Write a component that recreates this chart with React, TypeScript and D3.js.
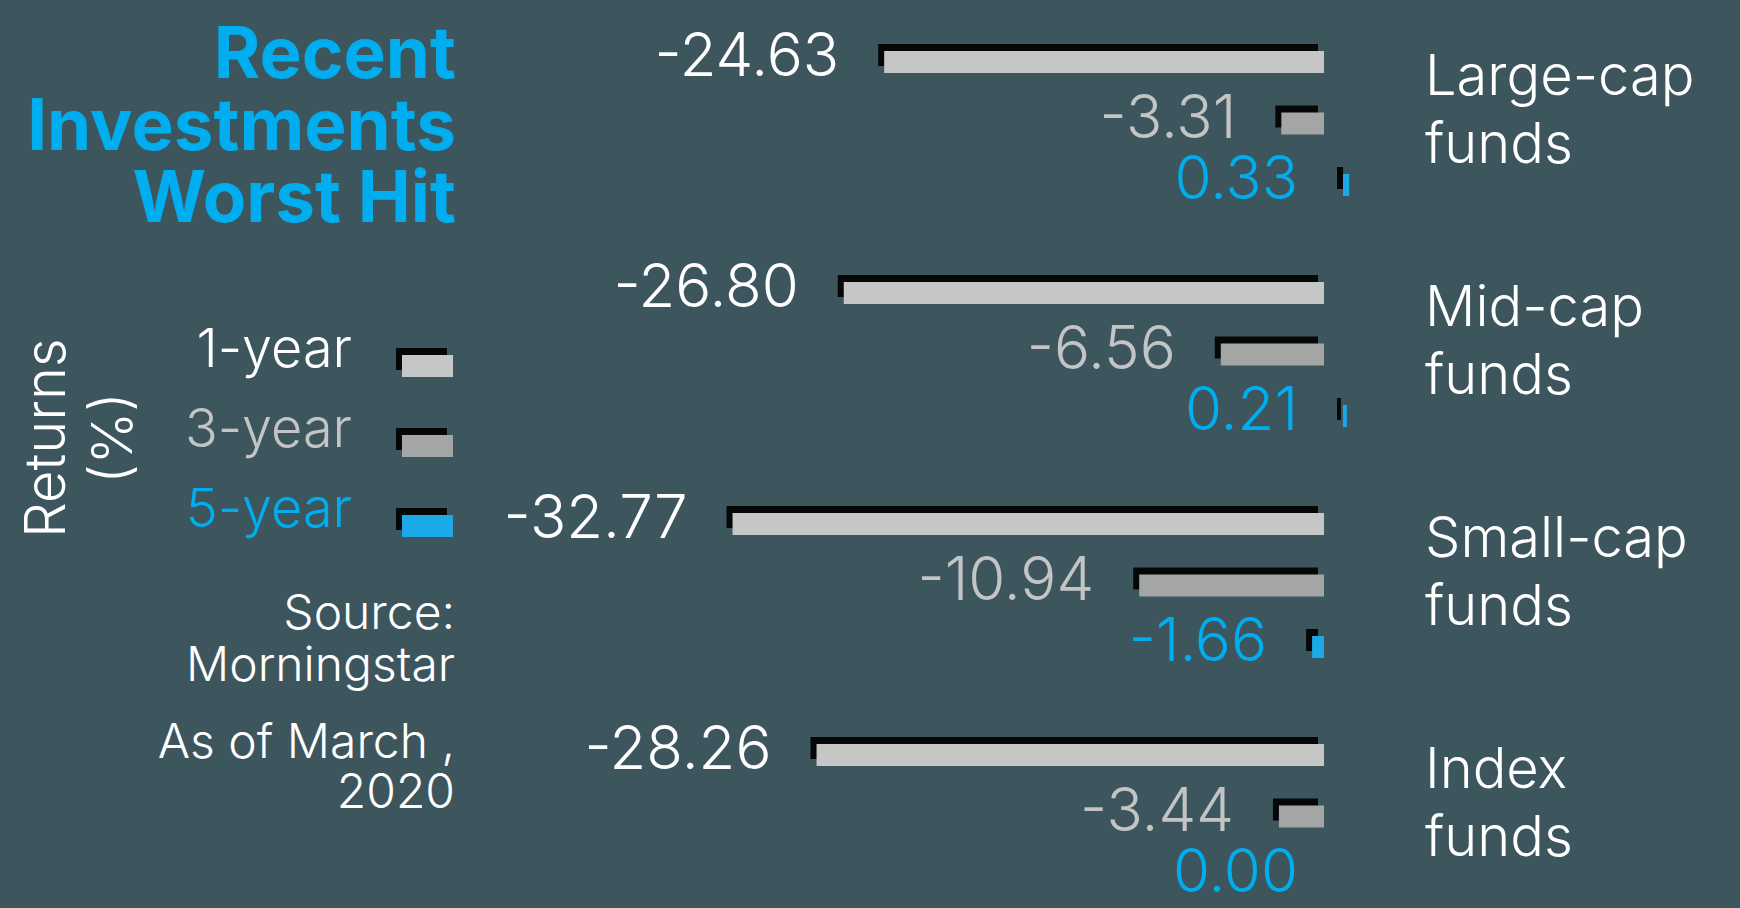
import React from "react";
import * as d3 from "d3";

// Fund returns (%) by category and holding period
const categories = ["Large-cap funds", "Mid-cap funds", "Small-cap funds", "Index funds"];
const seriesNames = ["1-year", "3-year", "5-year"];
const oneYear = [-24.63, -26.8, -32.77, -28.26];
const threeYear = [-3.31, -6.56, -10.94, -3.44];
const fiveYear = [0.33, 0.21, -1.66, 0.0];

const titleLines = ["Recent", "Investments", "Worst Hit"];
const axisLabelLines = ["Returns", "(%)"];
const sourceLines = ["Source:", "Morningstar"];
const dateLines = ["As of March ,", "2020"];

const W = 1740;
const H = 908;
const BG = "#3d565e";
const BLUE = "#00aeef";
const SHADOW = "#060808";
const barFill = ["#c5c7c7", "#a4a5a5", "#1ca9e8"];
const textFill = ["#ffffff", "#c3c4c4", BLUE];
const FONT = "Inter, 'Noto Sans', Roboto, sans-serif";

export default function App() {
  const values = [oneYear, threeYear, fiveYear];

  const x = d3.scaleLinear().domain([-35, 0]).range([691, 1343]);
  const yGroup = d3.scaleBand().domain(categories).range([51, 51 + 4 * 231]);
  const yInner = d3.scaleBand().domain(seriesNames).range([0, 184.5]);
  const legendY = d3.scalePoint().domain(seriesNames).range([367, 527]);

  const barH = 22;
  const shadowX = 6;
  const shadowY = 7;
  const negGap = 19; // negative bars stop short of the zero line
  const labelGap = 45;

  const bars = categories.flatMap((cat, i) =>
    seriesNames.map((s, j) => {
      const v = values[j][i];
      const top = (yGroup(cat) as number) + (yInner(s) as number);
      const x0 = v < 0 ? x(v) : x(0);
      const x1 = v < 0 ? x(0) - negGap : x(v);
      return { key: `${cat}-${s}`, v, j, top, x0, w: Math.max(0, x1 - x0) };
    })
  );

  return (
    <svg
      width={W}
      height={H}
      viewBox={`0 0 ${W} ${H}`}
      style={{ position: "absolute", left: 0, top: 0, display: "block" }}
      fontFamily={FONT}
    >
      <rect x={0} y={0} width={W} height={H} fill={BG} />

      {/* title */}
      <g fill={BLUE} fontWeight={700} fontSize={71} textAnchor="end">
        {titleLines.map((t, k) => (
          <text key={t} x={456} y={78 + k * 72}>
            {t}
          </text>
        ))}
      </g>

      {/* axis label */}
      <g fill="#ffffff" fontWeight={300} fontSize={56} textAnchor="middle">
        {axisLabelLines.map((t, k) => (
          <text key={t} transform={`translate(${65 + k * 67},438) rotate(-90)`}>
            {t}
          </text>
        ))}
      </g>

      {/* legend */}
      <g fontWeight={300} fontSize={54}>
        {seriesNames.map((s, j) => {
          const by = legendY(s) as number;
          return (
            <g key={s}>
              <text x={352} y={by} textAnchor="end" fill={textFill[j]}>
                {s}
              </text>
              <rect x={402 - shadowX} y={by - 12 - shadowY} width={51} height={barH} fill={SHADOW} />
              <rect x={402} y={by - 12} width={51} height={barH} fill={barFill[j]} />
            </g>
          );
        })}
      </g>

      {/* source and date */}
      <g fill="#ffffff" fontWeight={300} fontSize={48} textAnchor="end">
        {sourceLines.map((t, k) => (
          <text key={t} x={455} y={629 + k * 52}>
            {t}
          </text>
        ))}
        {dateLines.map((t, k) => (
          <text key={t} x={455} y={758 + k * 50}>
            {t}
          </text>
        ))}
      </g>

      {/* bars with drop shadow */}
      <g>
        {bars.map((b) =>
          b.w > 0 ? (
            <g key={b.key}>
              <rect x={b.x0 - shadowX} y={b.top - shadowY} width={b.w} height={barH} fill={SHADOW} />
              <rect x={b.x0} y={b.top} width={b.w} height={barH} fill={barFill[b.j]} />
            </g>
          ) : null
        )}
      </g>

      {/* value labels */}
      <g fontWeight={300} fontSize={60} textAnchor="end">
        {bars.map((b) => (
          <text key={b.key} x={b.x0 - labelGap} y={b.top + barH + 3} fill={textFill[b.j]}>
            {b.v.toFixed(2)}
          </text>
        ))}
      </g>

      {/* category labels */}
      <g fill="#ffffff" fontWeight={300} fontSize={56}>
        {categories.map((c) => {
          const top = yGroup(c) as number;
          const words = c.split(" ");
          return (
            <text key={c} x={1425} y={top + 44}>
              <tspan x={1425}>{words[0]}</tspan>
              <tspan x={1425} dy={68}>
                {words.slice(1).join(" ")}
              </tspan>
            </text>
          );
        })}
      </g>
    </svg>
  );
}
